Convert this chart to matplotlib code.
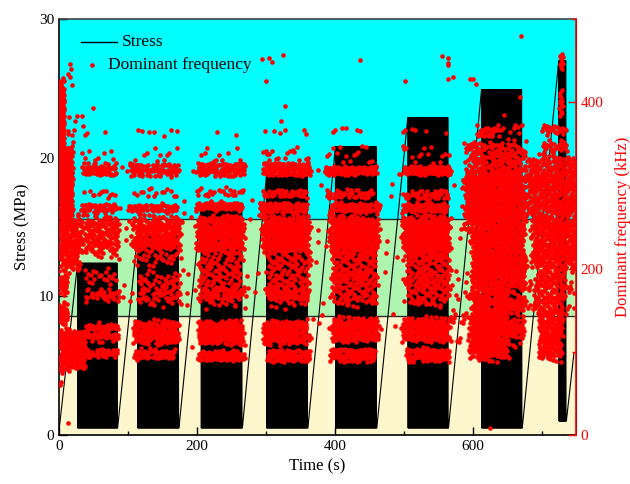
import numpy as np
import matplotlib
matplotlib.use("Agg")
import matplotlib.pyplot as plt
from matplotlib.ticker import MultipleLocator

plt.rcParams['font.family'] = ['Liberation Serif', 'DejaVu Serif']

# ---------------- Stress (cyclic loading blocks) ----------------
block_start = [27, 114, 206, 301, 401, 506, 613, 725]
block_end = [85, 174, 266, 361, 461, 565, 672, 736]
block_peak = [12.4, 14.4, 16.5, 18.7, 20.8, 22.9, 24.9, 27.0]
block_valley = [0.5, 0.5, 0.5, 0.5, 0.5, 0.5, 0.5, 1.0]
stress_start = (0.0, 0.3)
stress_end = (747.0, 5.9)
cycle_period = 1.0

# Stress level boundaries (background zones)
zone_levels = [0.0, 8.6, 15.55, 30.0]
zone_colors = ['#FEF6CD', '#AEF5B0', '#00FFFF']

# ---------------- Dominant frequency clusters ----------------
# (t_start, t_end, f_low, f_high, number_of_points)
cluster_t0 = [0, 0, 0, 0, 2, 0, 8,
              27, 35, 35, 35, 35, 35, 35, 38, 40, 86,
              108, 103, 110, 110, 103, 112, 112, 108, 112, 175,
              200, 197, 198, 197, 197, 204, 204, 202, 204, 267,
              295, 293, 293, 295, 293, 299, 299, 297, 299, 363,
              392, 386, 386, 390, 388, 395, 393, 395, 462,
              499, 497, 497, 499, 499, 502, 500, 502, 566, 566,
              606, 640, 592, 589, 599, 650, 599, 650, 596,
              679, 700, 726, 685, 690, 695, 730, 676]
cluster_t1 = [8, 20, 30, 12, 40, 5, 25,
              86, 86, 86, 86, 86, 86, 86, 86, 86, 108,
              175, 176, 175, 175, 176, 175, 175, 175, 172, 198,
              267, 267, 267, 267, 267, 267, 267, 267, 267, 292,
              362, 363, 363, 362, 363, 362, 362, 362, 362, 388,
              462, 462, 462, 462, 462, 462, 462, 462, 495,
              566, 566, 566, 566, 566, 566, 566, 566, 598, 598,
              640, 672, 676, 676, 650, 676, 650, 676, 650,
              750, 738, 731, 750, 733, 730, 750, 695]
cluster_f0 = [300, 255, 200, 125, 80, 60, 340,
              222, 312, 328, 286, 268, 160, 165, 113, 94, 150,
              222, 312, 328, 286, 268, 158, 163, 110, 91, 120,
              222, 312, 328, 287, 270, 158, 163, 110, 89, 120,
              222, 312, 328, 285, 268, 158, 163, 110, 89, 120,
              222, 313, 328, 285, 268, 159, 113, 89, 120,
              222, 313, 328, 284, 268, 159, 113, 89, 110, 170,
              358, 360, 316, 252, 170, 175, 135, 111, 93,
              264, 332, 345, 204, 150, 92, 150, 150]
cluster_f1 = [420, 345, 260, 200, 125, 90, 385,
              262, 326, 345, 295, 278, 220, 175, 135, 103, 330,
              262, 326, 345, 296, 278, 220, 175, 137, 103, 300,
              262, 327, 345, 297, 280, 220, 176, 137, 101, 300,
              262, 327, 345, 295, 279, 220, 176, 137, 102, 300,
              262, 323, 348, 295, 279, 224, 140, 104, 300,
              262, 323, 348, 294, 279, 224, 140, 104, 170, 300,
              372, 372, 352, 316, 252, 252, 170, 170, 147,
              332, 376, 460, 264, 204, 150, 204, 204]
cluster_n = [150, 220, 150, 70, 200, 6, 8,
             150, 60, 8, 12, 45, 40, 25, 80, 35, 12,
             230, 80, 10, 15, 55, 80, 30, 150, 60, 10,
             280, 100, 10, 25, 65, 150, 40, 180, 90, 10,
             300, 110, 15, 40, 80, 150, 40, 180, 90, 10,
             300, 110, 15, 40, 80, 220, 200, 100, 10,
             300, 120, 15, 40, 80, 220, 200, 100, 25, 15,
             30, 6, 160, 600, 450, 160, 170, 90, 330,
             400, 50, 30, 300, 140, 170, 20, 15]

# Isolated points read individually (time s, frequency kHz)
single_t = [16, 18, 19, 16, 13, 33, 35, 37, 49, 23, 40, 67, 13,
            114, 121, 130, 138, 153, 162, 171,
            229, 257,
            295, 304, 309, 325, 301, 328, 322, 299, 312, 320, 328, 356, 359, 340, 305, 376,
            437, 398, 400, 410, 416, 432, 437,
            502, 555, 564, 564, 564, 565, 571, 596, 600, 605, 499, 502, 512, 516, 533, 562,
            613, 627, 645, 662, 671, 669, 670, 625]
single_f = [446, 440, 421, 430, 434, 384, 371, 361, 393, 377, 363, 364, 14,
            366, 365, 364, 364, 359, 367, 365,
            364, 361,
            452, 453, 448, 457, 426, 395, 377, 365, 365, 363, 367, 367, 362, 342, 338, 318,
            451, 364, 367, 369, 369, 366, 365,
            426, 455, 453, 447, 445, 428, 430, 428, 428, 422, 364, 366, 368, 367, 365, 363,
            367, 366, 385, 373, 373, 406, 480, 8]

# ---------------- Build stress trace from block parameters ----------------
st_t = [stress_start[0]]
st_s = [stress_start[1]]
for t0, t1, pk, vl in zip(block_start, block_end, block_peak, block_valley):
    n_half = int(round((t1 - t0) / (cycle_period / 2)))
    tt = np.linspace(t0, t1, n_half + 1)
    vals = np.where(np.arange(n_half + 1) % 2 == 0, pk, vl)
    vals[-1] = vl
    st_t.extend(tt.tolist())
    st_s.extend(vals.tolist())
st_t.append(stress_end[0])
st_s.append(stress_end[1])

# ---------------- Expand frequency clusters (low-discrepancy fill, soft edges) ----------------
g4 = 1.16730397826141868425  # generalized golden ratio for 4 dimensions
alph = np.array([1.0 / g4 ** (i + 1) for i in range(4)])
ft, ff = [], []
offset = 0
for t0, t1, f0, f1, n in zip(cluster_t0, cluster_t1, cluster_f0, cluster_f1, cluster_n):
    k = (np.arange(n) + offset + 1)[:, None]
    q = (0.5 + alph[None, :] * k) % 1.0
    u = q[:, 0] + 0.12 * (q[:, 2] - 0.5)
    v = q[:, 1] + 0.25 * (q[:, 3] - 0.5)
    ft.append(t0 + u * (t1 - t0))
    ff.append(f0 + v * (f1 - f0))
    offset += n
ft.append(np.array(single_t, float))
ff.append(np.array(single_f, float))
ft = np.concatenate(ft)
ff = np.concatenate(ff)

# ---------------- Figure ----------------
fig = plt.figure(figsize=(6.3, 4.84), dpi=100)
ax = fig.add_axes([59 / 630, 49 / 484, 517 / 630, 416 / 484])

for lo, hi, c in zip(zone_levels[:-1], zone_levels[1:], zone_colors):
    ax.axhspan(lo, hi, color=c, zorder=0, lw=0)
for lv in zone_levels[1:-1]:
    ax.axhline(lv, color='#2b2b2b', lw=1.0, zorder=1)

ax.plot(st_t, st_s, color='black', lw=0.8, zorder=2)

ax.set_xlim(0, 750)
ax.set_ylim(0, 30)
ax.xaxis.set_major_locator(MultipleLocator(200))
ax.yaxis.set_major_locator(MultipleLocator(10))
ax.xaxis.set_minor_locator(MultipleLocator(100))
ax.yaxis.set_minor_locator(MultipleLocator(5))
ax.tick_params(axis='both', which='major', direction='in', length=6, width=1,
               labelsize=11, top=False, right=False)
ax.tick_params(axis='both', which='minor', direction='in', length=3, width=1,
               top=False, right=False)
ax.set_xlabel('Time (s)', fontsize=12, labelpad=4)
ax.set_ylabel('Stress (MPa)', fontsize=12, labelpad=6)
for sp in ['left', 'bottom']:
    ax.spines[sp].set_linewidth(1.2)
    ax.spines[sp].set_color('black')
ax.spines['top'].set_color('#444444')
ax.spines['top'].set_linewidth(1.2)

ax2 = ax.twinx()
ax2.patch.set_visible(False)
ax2.scatter(ft, ff, s=11, color='#FF0000', linewidths=0, zorder=3)
ax2.set_ylim(0, 500)
ax2.yaxis.set_major_locator(MultipleLocator(200))
ax2.yaxis.set_minor_locator(MultipleLocator(100))
ax2.tick_params(axis='y', which='major', direction='in', length=6, width=1,
                labelsize=11, colors='#FF0000')
ax2.tick_params(axis='y', which='minor', direction='in', length=3, width=1,
                colors='#FF0000')
ax2.spines['right'].set_color('#FF0000')
ax2.spines['right'].set_linewidth(1.2)
ax2.spines['left'].set_visible(False)
ax2.spines['top'].set_visible(False)
ax2.spines['bottom'].set_visible(False)
ax2.set_ylabel('Dominant frequency (kHz)', fontsize=12, color='#FF0000', labelpad=8)

# Legend (drawn in axes coordinates)
tr = ax2.transAxes
ax2.plot([0.043, 0.112], [0.945, 0.945], color='black', lw=1.0, transform=tr, zorder=5)
ax2.text(0.121, 0.945, 'Stress', transform=tr, fontsize=12.5, va='center', ha='left', zorder=5)
ax2.scatter([0.064], [0.889], s=11, color='#FF0000', linewidths=0, transform=tr, zorder=5)
ax2.text(0.095, 0.889, 'Dominant frequency', transform=tr, fontsize=12.5, va='center',
         ha='left', zorder=5)

fig.savefig('out.png', dpi=100)
